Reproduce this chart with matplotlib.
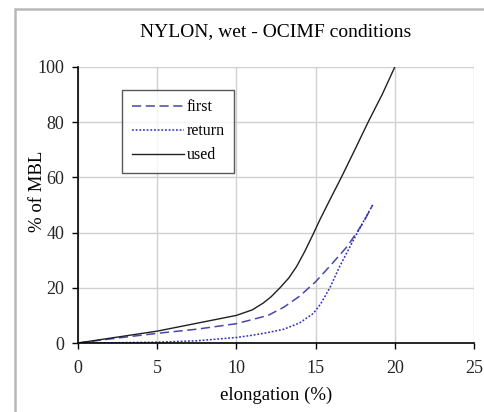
import matplotlib.pyplot as plt
from matplotlib.patches import Rectangle

plt.rcParams['font.family'] = ['Liberation Serif', 'DejaVu Serif']

# first loading
first_x = [0, 2.5, 5, 7.5, 10, 11, 12, 13, 14, 15, 16, 17, 18, 18.6]
first_y = [0, 1.8, 3.5, 5, 7, 8.5, 10, 13, 17, 22.2, 28.5, 35, 43.5, 50]

# return curve
ret_x = [0, 2.5, 5, 7.5, 10, 11, 12, 13, 14, 14.85, 15.3, 15.9, 16.5, 17, 17.5, 18, 18.6]
ret_y = [0, 0.1, 0.3, 0.8, 2, 2.8, 3.8, 5, 7.3, 10.7, 14, 20, 27.5, 33, 38.5, 43.8, 50]

# used rope
used_x = [0, 5, 10, 11, 11.7, 12.2, 12.75, 13.3, 13.8, 14.3, 14.85, 15.3, 16, 16.65, 17.5, 18.33, 19.2, 20]
used_y = [0, 4.3, 10, 12, 14.5, 16.8, 20, 23.5, 27.7, 33, 39.5, 45, 53, 60.3, 70.3, 80.2, 90, 100]

fig = plt.figure(figsize=(4.84, 4.12), dpi=100)
fig.patches.append(Rectangle((14.5/484, -0.05), 1.0, 1.05 - 8.5/412,
                             transform=fig.transFigure, fill=False,
                             edgecolor='#b8b8b8', linewidth=1.8))

ax = fig.add_axes([78/484, 1 - 343/412, 396/484, 276/412])
ax.plot(first_x, first_y, color='#4848a8', linestyle=(0, (6, 3)), linewidth=1.1, label='first')
ax.plot(ret_x, ret_y, color='#2a2ad0', linestyle=(0, (1.2, 1.2)), linewidth=1.1, label='return')
ax.plot(used_x, used_y, color='#202020', linestyle='-', linewidth=1.0, label='used')

ax.set_xlim(0, 25)
ax.set_ylim(0, 100)
ax.set_xticks([0, 5, 10, 15, 20, 25])
ax.set_yticks([0, 20, 40, 60, 80, 100])
ax.grid(True, color='#d0d0d0', linewidth=1.0)
ax.set_axisbelow(True)
for s in ['top', 'right']:
    ax.spines[s].set_visible(False)
ax.spines['left'].set_linewidth(1.2)
ax.spines['bottom'].set_linewidth(1.2)
ax.tick_params(length=4, width=1, labelsize=13, colors='black')
ax.tick_params(axis='x', pad=8)
ax.tick_params(axis='y', pad=6)
for lab in ax.get_xticklabels() + ax.get_yticklabels():
    lab.set_color('#252525')

ax.set_title('NYLON, wet - OCIMF conditions', fontsize=14, pad=22)
ax.set_xlabel('elongation (%)', fontsize=13.5, labelpad=7)
ax.set_ylabel('% of MBL', fontsize=13.5)
ax.yaxis.set_label_coords(-0.082, 0.55)

leg = ax.legend(loc='upper left', bbox_to_anchor=(0.111, 0.917), fontsize=11.5,
                frameon=True, fancybox=False, edgecolor='#303030', borderaxespad=0,
                handlelength=3.3, borderpad=0.6, labelspacing=0.5, handletextpad=0.15)
leg.get_frame().set_linewidth(1.0)

fig.savefig('out.png', dpi=100)
